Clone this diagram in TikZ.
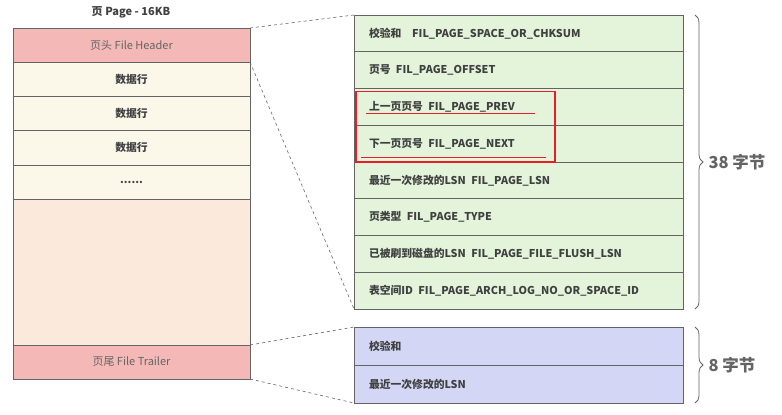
\documentclass[tikz,border=0pt]{standalone}
\usepackage{fontspec}
\setmainfont{Noto Sans CJK SC}
\usepackage{tikz}
\usetikzlibrary{positioning, calc, decorations.pathreplacing}
\definecolor{headred}{RGB}{244, 185, 183}
\definecolor{rowcream}{RGB}{251, 248, 234}
\definecolor{freepeach}{RGB}{251, 234, 219}
\definecolor{fieldgreen}{RGB}{227, 244, 218}
\definecolor{trailblue}{RGB}{211, 214, 245}
\definecolor{linegray}{RGB}{100, 100, 100}
\definecolor{textgray}{RGB}{64, 64, 64}
\definecolor{markred}{RGB}{230, 30, 40}

\tikzset{
    cell/.style={draw=linegray, line width=0.8pt, minimum width=237pt, inner sep=0pt, outer sep=0pt, font=\fontsize{11}{13}\selectfont, text=textgray},
    field/.style={draw=linegray, line width=0.8pt, fill=fieldgreen, minimum height=36.75pt, text width=299pt, inner xsep=15pt, inner ysep=0pt, outer sep=0pt, align=left, font=\fontsize{10.8}{13}\selectfont\bfseries, text=textgray, anchor=north west},
    zoomline/.style={draw=linegray, dashed, line width=0.6pt},
    bytebrace/.style={draw=linegray, line width=0.8pt, decorate, decoration={brace, amplitude=8pt}}
}

\begin{document}
\begin{tikzpicture}[x=1pt, y=1pt]
    \useasboundingbox (0,0) rectangle (782,-415);

    % --- Page ---
    \node[font=\fontsize{11}{13}\selectfont\bfseries, text=textgray] (title) at (131,-12) {页 Page - 16KB};

    \node[cell, fill=headred, minimum height=34pt, text=linegray, anchor=north west] (header) at (13,-28) {页头 File Header};
    \node[cell, fill=rowcream, minimum height=34.3pt, font=\fontsize{10.8}{13}\selectfont\bfseries, below=0pt of header] (row1) {数据行};
    \node[cell, fill=rowcream, minimum height=34.3pt, font=\fontsize{10.8}{13}\selectfont\bfseries, below=0pt of row1] (row2) {数据行};
    \node[cell, fill=rowcream, minimum height=34.3pt, font=\fontsize{10.8}{13}\selectfont\bfseries, below=0pt of row2] (row3) {数据行};
    \node[cell, fill=rowcream, minimum height=34.3pt, font=\fontsize{10.8}{13}\selectfont\bfseries, below=0pt of row3] (dots) {......};
    \node[cell, fill=freepeach, minimum height=145.8pt, below=0pt of dots] (free) {};
    \node[cell, fill=headred, minimum height=34pt, text=linegray, below=0pt of free] (trailer) {页尾 File Trailer};

    % --- File Header fields ---
    \foreach \lab [count=\i] in {
        {校验和\quad FIL\_PAGE\_SPACE\_OR\_CHKSUM},
        {页号\enspace FIL\_PAGE\_OFFSET},
        {上一页页号\enspace FIL\_PAGE\_PREV},
        {下一页页号\enspace FIL\_PAGE\_NEXT},
        {最近一次修改的LSN\enspace FIL\_PAGE\_LSN},
        {页类型\enspace FIL\_PAGE\_TYPE},
        {已被刷到磁盘的LSN\enspace FIL\_PAGE\_FILE\_FLUSH\_LSN},
        {表空间ID\enspace FIL\_PAGE\_ARCH\_LOG\_NO\_OR\_SPACE\_ID}}
        \node[field] (f\i) at (354,{-15-36.75*(\i-1)}) {\lab};

    % --- File Trailer fields ---
    \node[field, fill=trailblue, minimum height=38pt] (t1) at (354,-327) {校验和};
    \node[field, fill=trailblue, minimum height=38pt] (t2) at (354,-365) {最近一次修改的LSN};

    % dashed zoom lines
    \draw[zoomline] (header.north east) -- (f1.north west);
    \draw[zoomline] (header.south east) -- (f8.south west);
    \draw[zoomline] (trailer.north east) -- (t1.north west);
    \draw[zoomline] (trailer.south east) -- (t2.south west);

    % red marks on prev / next
    \draw[markred, line width=1.6pt] ($(f3.north west)+(2,-3)$) rectangle ($(f4.south west)+(201,0)$);
    \draw[markred, line width=0.9pt] ($(f3.south west)+(12,12)$) -- ++(169,0);
    \draw[markred, line width=0.9pt] ($(f4.south west)+(7,5)$) -- ++(185,0);

    % byte counts
    \draw[bytebrace] ($(f1.north east)+(12,0)$) -- ($(f8.south east)+(12,0)$) coordinate[midway] (b1);
    \node[font=\fontsize{16.5}{19}\selectfont\bfseries, text=linegray, anchor=west] (size1) at ($(b1)+(10,0)$) {38 字节};
    \draw[bytebrace] ($(t1.north east)+(12,0)$) -- ($(t2.south east)+(12,0)$) coordinate[midway] (b2);
    \node[font=\fontsize{16.5}{19}\selectfont\bfseries, text=linegray, anchor=west] (size2) at ($(b2)+(10,0)$) {8 字节};
\end{tikzpicture}
\end{document}
